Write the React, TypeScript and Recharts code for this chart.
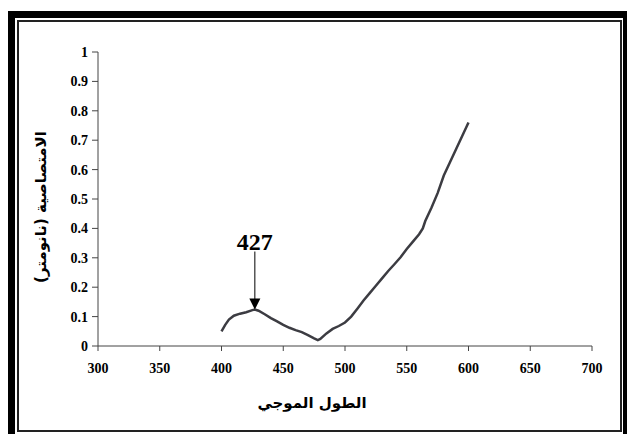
import { LineChart, Line, XAxis, YAxis, ReferenceDot } from 'recharts'

// absorption spectrum, nm vs absorbance
const WAVELENGTHS = [
  400, 403, 406, 410, 415, 420, 425, 427, 430, 435, 440, 445, 450, 455, 460,
  465, 470, 475, 478, 480, 485, 490, 495, 500, 505, 510, 515, 520, 525, 530,
  535, 540, 545, 550, 555, 560, 563, 565, 570, 575, 580, 585, 590, 595, 600,
]
const ABSORBANCE = [
  0.05, 0.072, 0.09, 0.103, 0.11, 0.115, 0.122, 0.124, 0.12, 0.108, 0.095, 0.084, 0.072, 0.062, 0.054,
  0.047, 0.037, 0.026, 0.02, 0.024, 0.043, 0.058, 0.068, 0.08, 0.1, 0.127, 0.155, 0.18, 0.205, 0.23,
  0.255, 0.278, 0.302, 0.33, 0.355, 0.38, 0.4, 0.425, 0.47, 0.52, 0.58, 0.625, 0.67, 0.715, 0.76,
]
const X_TICKS = [300, 350, 400, 450, 500, 550, 600, 650, 700]
const Y_TICKS = [0, 0.1, 0.2, 0.3, 0.4, 0.5, 0.6, 0.7, 0.8, 0.9, 1]
const PEAK_WL = 427
const PEAK_ABS = 0.124

const X_TITLE = 'الطول الموجي'
const Y_TITLE = 'الامتصاصية (نانومتر)'

const data = WAVELENGTHS.map((wl, i) => ({ wl, abs: ABSORBANCE[i] }))

const tickStyle = { fontFamily: '"Liberation Serif", serif', fontWeight: 700, fontSize: 14, fill: '#000' }
const arabicFont = '"DejaVu Sans", sans-serif'

function PeakArrow({ cx, cy }: any) {
  if (cx == null || cy == null) return null
  return (
    <g>
      <line x1={cx} y1={cy - 58} x2={cx} y2={cy - 10} stroke="#000" strokeWidth={1} />
      <polygon points={`${cx - 5.5},${cy - 11} ${cx + 5.5},${cy - 11} ${cx},${cy}`} fill="#000" />
      <text x={cx} y={cy - 60} textAnchor="middle"
        style={{ fontFamily: '"Liberation Serif", serif', fontWeight: 700, fontSize: 24 }}>
        {PEAK_WL}
      </text>
    </g>
  )
}

function XTitle({ viewBox }: any) {
  const { x, y, width } = viewBox
  return (
    <text x={x + width / 2 - 33} y={y + 62} textAnchor="middle" direction="rtl"
      style={{ fontFamily: arabicFont, fontWeight: 700, fontSize: 15 }}>
      {X_TITLE}
    </text>
  )
}

function YTitle({ viewBox }: any) {
  const { y, height } = viewBox
  const cx = 41
  const cy = y + height / 2 + 8
  return (
    <text x={cx} y={cy} textAnchor="middle" dominantBaseline="central" direction="rtl"
      transform={`rotate(-90 ${cx} ${cy})`}
      style={{ fontFamily: arabicFont, fontWeight: 700, fontSize: 15 }}>
      {Y_TITLE}
    </text>
  )
}

export default function App() {
  return (
    <div style={{ position: 'fixed', left: 0, top: 0, width: 627, height: 434, background: '#fff', overflow: 'hidden' }}>
      {/* chart area border: thick outer line with a thin inner one */}
      <div style={{
        position: 'absolute', left: 8, top: 11, width: 622, height: 430,
        border: '7px solid #000', boxSizing: 'border-box',
      }} />
      <div style={{
        position: 'absolute', left: 17, top: 20, width: 605, height: 412,
        border: '2px solid #222', boxSizing: 'border-box',
      }} />
      <div style={{ position: 'absolute', left: 0, top: 0 }}>
        <LineChart width={627} height={434} data={data}
          margin={{ top: 52, right: 35, bottom: 58, left: 38 }}>
          <XAxis type="number" dataKey="wl" domain={[300, 700]} ticks={X_TICKS}
            interval={0} height={30} tickSize={5} tickMargin={12}
            stroke="#444" tick={tickStyle} tickLine={{ stroke: '#444' }}
            label={<XTitle />} />
          <YAxis type="number" domain={[0, 1]} ticks={Y_TICKS} interval={0}
            width={60} tickSize={6} tickMargin={4}
            stroke="#444" tick={tickStyle} tickLine={{ stroke: '#444' }}
            label={<YTitle />} />
          <Line type="linear" dataKey="abs" stroke="#3c3c42" strokeWidth={2.5}
            dot={false} isAnimationActive={false} />
          <ReferenceDot x={PEAK_WL} y={PEAK_ABS} r={0} shape={<PeakArrow />} ifOverflow="visible" />
        </LineChart>
      </div>
    </div>
  )
}
